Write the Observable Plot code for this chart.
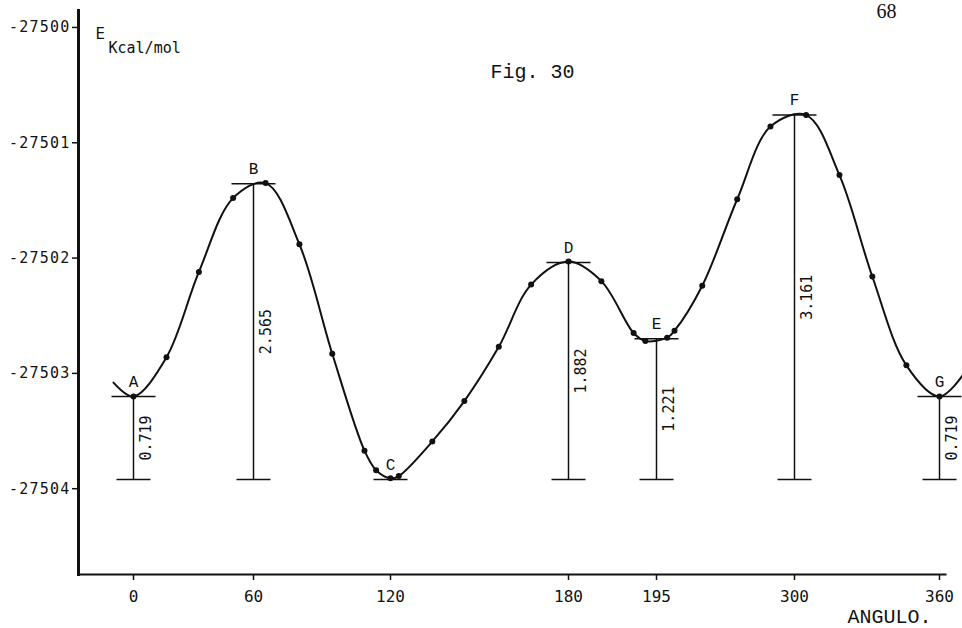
<!DOCTYPE html>
<html>
<head>
<meta charset="utf-8">
<script src="https://cdn.jsdelivr.net/npm/d3@7"></script>
<script src="https://cdn.jsdelivr.net/npm/@observablehq/plot@0.6"></script>
<style>
  html, body { margin: 0; padding: 0; background: #fff; }
  #chart svg { display: block; }
  g[aria-label="y-axis tick label"] text { letter-spacing: 1.2px; }
  g[aria-label="gap values"] text { letter-spacing: 0.6px; }
  g[aria-label="unit"] text { letter-spacing: 1.2px; }
  g[aria-label="x title"] text { letter-spacing: 0.6px; }
  g[aria-label="figure title"] text { letter-spacing: 1.5px; }
</style>
</head>
<body>
<div id="chart"></div>
<script>
// ---- axis ticks ----
const angleTicks = [0, 60, 120, 180, 195, 300, 360];
const angleTickLabels = ["0", "60", "120", "180", "195", "300", "360"];
const energyTicks = [-27500, -27501, -27502, -27503, -27504];

// ---- measured points (dots), angle read on the printed axis, energy in kcal/mol ----
const pointAngles = [0, 16.5, 32.7, 49.8, 65.3, 80.1, 94.5, 108.6, 113.7, 120, 122.8, 134.1, 144.9,
  156.5, 167.4, 180, 185.6, 191.1, 193.1, 203.1, 208.7, 229.8, 256.4, 281.7, 304.8, 318.6, 332.2, 346.3, 360];
const pointEnergies = [-27503.20, -27502.86, -27502.12, -27501.48, -27501.35, -27501.88, -27502.83,
  -27503.67, -27503.84, -27503.91, -27503.89, -27503.59, -27503.24, -27502.77, -27502.23, -27502.03,
  -27502.20, -27502.65, -27502.72, -27502.69, -27502.63, -27502.24, -27501.49, -27500.86, -27500.76,
  -27501.28, -27502.16, -27502.93, -27503.20];

// curve continues a little beyond both ends
const tailAngles = [-10, 369.5];
const tailEnergies = [-27503.08, -27503.02];

// ---- stationary points ----
const stationaryNames = ["A", "B", "C", "D", "E", "F", "G"];
const stationaryAngles = [0, 60, 120, 180, 195, 300, 360];
const relativeEnergies = [0.719, 2.565, 0, 1.882, 1.221, 3.161, 0.719];
const minimumEnergy = -27503.92;

// ---- build tables ----
const points = pointAngles.map((a, i) => ({angle: a, energy: pointEnergies[i]}));
const curve = [
  {angle: tailAngles[0], energy: tailEnergies[0]},
  ...points,
  {angle: tailAngles[1], energy: tailEnergies[1]}
];
const stationary = stationaryNames.map((n, i) => ({
  name: n,
  angle: stationaryAngles[i],
  rel: relativeEnergies[i],
  energy: minimumEnergy + relativeEnergies[i],
  base: minimumEnergy
}));
const gaps = stationary.filter(d => d.rel > 0);

// horizontal bar symbol for the caps
const hbar = {
  draw(ctx, size) {
    const r = Math.sqrt(size / Math.PI);
    ctx.moveTo(-r, 0);
    ctx.lineTo(r, 0);
  }
};

const ink = "#111";

const chart = Plot.plot({
  width: 962,
  height: 628,
  marginLeft: 78,
  marginRight: 17,
  marginTop: 10,
  marginBottom: 54,
  style: {background: "#fff", color: ink},
  x: {type: "linear", domain: angleTicks, range: [133, 253, 390, 568, 656, 794, 939]},
  y: {type: "linear", domain: [-27504.744, -27499.853]},
  marks: [
    Plot.frame({anchor: "left", stroke: ink, strokeWidth: 3}),
    Plot.frame({anchor: "bottom", stroke: ink, strokeWidth: 2}),
    Plot.axisX({
      ticks: angleTicks,
      tickFormat: d => angleTickLabels[angleTicks.indexOf(d)],
      tickSize: 6, tickPadding: 10,
      fontSize: 16, fontFamily: "DejaVu Sans Mono",
      stroke: ink, strokeWidth: 1.5,
      label: null
    }),
    Plot.axisY({
      ticks: energyTicks,
      tickFormat: d => String(d),
      tickSize: 6, tickPadding: 2,
      fontSize: 15, fontFamily: "DejaVu Sans Mono",
      stroke: ink, strokeWidth: 1.5,
      label: null
    }),
    // vertical energy-difference bars
    Plot.ruleX(gaps, {x: "angle", y1: "base", y2: "energy", stroke: ink, strokeWidth: 1.5}),
    // caps
    Plot.dot(gaps, {x: "angle", y: "energy", symbol: hbar, r: 22, fill: "none", stroke: ink, strokeWidth: 1.5}),
    Plot.dot(stationary, {x: "angle", y: "base", symbol: hbar, r: 17, fill: "none", stroke: ink, strokeWidth: 1.5}),
    // curve
    Plot.line(curve, {x: "angle", y: "energy", curve: "catmull-rom", stroke: ink, strokeWidth: 2}),
    Plot.dot(points, {x: "angle", y: "energy", r: 3, fill: ink, stroke: "none"}),
    // labels
    Plot.text(stationary, {x: "angle", y: "energy", text: "name", dy: -15,
      fontFamily: "Liberation Mono", fontSize: 16, fill: ink}),
    Plot.text(gaps, {x: "angle", y: d => d.base + d.rel / 2, text: d => d.rel.toFixed(3),
      rotate: -90, dx: 13, fontFamily: "DejaVu Sans Mono", fontSize: 15, fill: ink, ariaLabel: "gap values"}),
    // annotations
    Plot.text(["Fig. 30"], {frameAnchor: "top-left", dx: 412, dy: 67, lineAnchor: "bottom",
      fontFamily: "Liberation Mono", fontSize: 20, fill: ink, ariaLabel: "figure title"}),
    Plot.text(["68"], {frameAnchor: "top-right", dx: -49, dy: 7, lineAnchor: "bottom",
      fontFamily: "Liberation Serif", fontSize: 20, fill: ink, ariaLabel: "page"}),
    Plot.text(["E"], {frameAnchor: "top-left", dx: 17, dy: 28, lineAnchor: "bottom",
      fontFamily: "DejaVu Sans", fontSize: 15, fill: ink, ariaLabel: "y title"}),
    Plot.text(["Kcal/mol"], {frameAnchor: "top-left", dx: 30, dy: 42, lineAnchor: "bottom", textAnchor: "start",
      fontFamily: "DejaVu Sans Mono", fontSize: 15, fill: ink, ariaLabel: "unit"}),
    Plot.text(["ANGULO."], {frameAnchor: "bottom-right", dx: -98, dy: 48, lineAnchor: "bottom", textAnchor: "start",
      fontFamily: "Liberation Mono", fontSize: 20, fill: ink, ariaLabel: "x title"})
  ]
});

document.getElementById("chart").appendChild(chart);
</script>
</body>
</html>
